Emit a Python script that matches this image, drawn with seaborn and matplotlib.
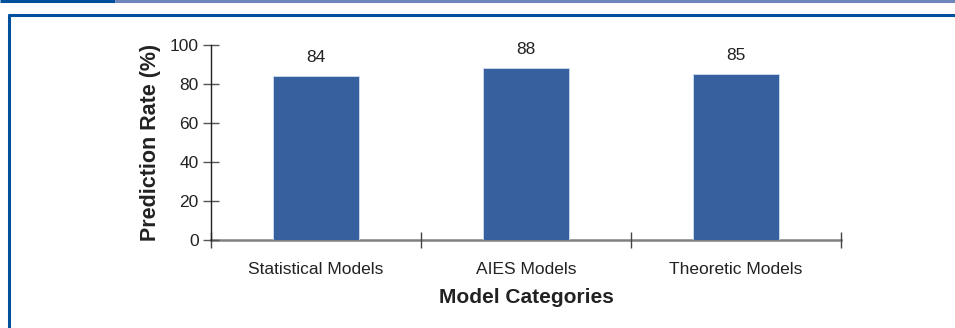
import matplotlib.pyplot as plt
from matplotlib.lines import Line2D
import pandas as pd
import seaborn as sns

# data
categories = ["Statistical Models", "AIES Models", "Theoretic Models"]
rates = [84, 88, 85]

sns.set_style("white")
plt.rcParams['font.family'] = ['Liberation Sans', 'DejaVu Sans']

W, H = 955, 328
fig = plt.figure(figsize=(W / 100, H / 100), dpi=100)
ax = fig.add_axes([211 / W, 1 - 240 / H, 630 / W, 195 / H])

df = pd.DataFrame({"category": categories, "rate": rates})
sns.barplot(data=df, x="category", y="rate", color="#36609e", saturation=1,
            width=0.405, ax=ax, edgecolor="#d0ddf0", linewidth=0.6)
ax.bar_label(ax.containers[0], fmt="%d", padding=8, fontsize=12.5, color="#222222")

ax.set_xlim(-0.5, 2.5)
ax.set_ylim(0, 100)
ax.set_yticks([0, 20, 40, 60, 80, 100])
ax.set_xticks([-0.5, 0.5, 1.5, 2.5], minor=True)

ax.tick_params(axis='y', left=True, direction='inout', length=12, width=1, color='#555555',
               labelsize=12.5, labelcolor='#222222', pad=3)
ax.tick_params(axis='x', which='major', bottom=True, length=0, labelsize=12.5,
               labelcolor='#222222', pad=16)
ax.tick_params(axis='x', which='minor', bottom=True, direction='inout', length=11,
               width=1, color='#444444')

for s in ['top', 'right']:
    ax.spines[s].set_visible(False)
ax.spines['left'].set_color('#222222')
ax.spines['left'].set_linewidth(1.0)
ax.spines['bottom'].set_color('#808080')
ax.spines['bottom'].set_linewidth(1.8)
ax.spines['bottom'].set_zorder(0.5)

ax.set_xlabel("Model Categories", fontsize=15, fontweight='bold', color='#222222', labelpad=8)
ax.set_ylabel("Prediction Rate (%)", fontsize=15.5, fontweight='bold', color='#222222', labelpad=6)

# page frame
def px_line(x0, y0, x1, y1, color, lw):
    fig.add_artist(Line2D([x0 / W, x1 / W], [1 - y0 / H, 1 - y1 / H],
                          transform=fig.transFigure, color=color, linewidth=lw,
                          solid_capstyle='butt'))

dark = "#00509e"
px_line(0, 1.2, 115, 1.2, dark, 2.2)
px_line(115, 1.2, W, 1.2, "#6f86bd", 2.2)
px_line(8, 15.3, W, 15.3, dark, 2.2)
px_line(9.3, 14, 9.3, H, dark, 2.2)

fig.savefig("out.png", dpi=100)
